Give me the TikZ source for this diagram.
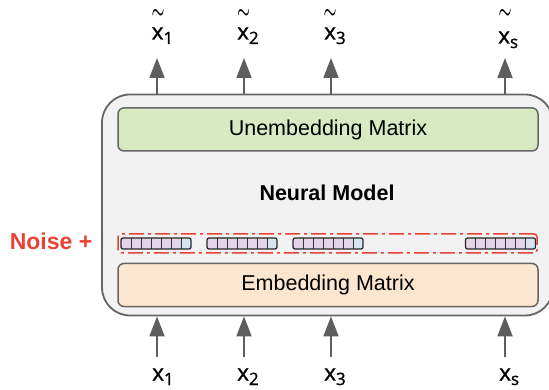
\documentclass[tikz,border=0pt]{standalone}
\usepackage{fontspec}
\setmainfont{Liberation Sans}
\newfontfamily\labfont[FakeBold=1.2]{Open Sans}
\usetikzlibrary{arrows.meta}
\definecolor{outerfill}{HTML}{F2F2F2}
\definecolor{bordergray}{HTML}{666666}
\definecolor{arrgray}{HTML}{5E5E5E}
\definecolor{greenfill}{HTML}{D9EAC3}
\definecolor{orangefill}{HTML}{FCE6CF}
\definecolor{noisered}{HTML}{E94235}
\definecolor{cellp}{HTML}{E1D5E7}
\definecolor{cellb}{HTML}{D6E4EE}
\tikzset{
  outerbox/.style={draw=bordergray, line width=1.8pt, fill=outerfill, rounded corners=28pt,
    minimum width=451pt, minimum height=221pt, inner sep=0},
  matbox/.style={draw=bordergray, line width=1.5pt, rounded corners=6pt,
    minimum width=420pt, minimum height=43pt, inner sep=0, font=\fontsize{21.5}{24}\selectfont},
  noisebox/.style={draw=noisered, line width=1.5pt, rounded corners=3pt,
    dash pattern=on 15pt off 4pt on 3pt off 4pt, minimum width=419pt, minimum height=19pt, inner sep=0},
  tokbox/.style={draw=black!85, line width=1.2pt, rounded corners=2pt, minimum width=70pt,
    minimum height=11pt, inner sep=0, fill=cellp,
    path picture={
      \fill[cellb] ([xshift=-10pt]path picture bounding box.north east) rectangle (path picture bounding box.south east);
      \foreach \i in {1,...,6}
        \draw[line width=0.7pt, black!80] ([xshift=\i*10pt]path picture bounding box.north west) -- ([xshift=\i*10pt]path picture bounding box.south west);
    }},
  arr/.style={draw=arrgray, line width=1.8pt, -{Triangle[length=20pt,width=15pt]}},
  xlab/.style={anchor=base west, inner sep=0},
  tlab/.style={inner sep=0, font=\fontsize{10}{10}\selectfont},
}
\newcommand{\xl}[1]{{\labfont\fontsize{22.5}{24}\selectfont x\raisebox{-4.5pt}{\fontsize{17}{17}\selectfont #1}}}
\newcommand{\tl}{\scalebox{1.45}[2.3]{$\boldsymbol{\sim}$}}
\usepackage{amsmath}
\begin{document}
\begin{tikzpicture}[x={(1pt,0)}, y={(0,-1pt)}]
\useasboundingbox (0,0) rectangle (549,390);
\clip (0,0) rectangle (549,390);
% outer model box
\node[outerbox] (model) at (327.5,205) {};
% matrices
\node[matbox, fill=greenfill] (unemb) at (328,129.5) {Unembedding Matrix};
\node[matbox, fill=orangefill] (emb) at (328,285) {Embedding Matrix};
\node[font=\bfseries\fontsize{21.5}{24}\selectfont] (nm) at (327,193) {Neural Model};
% noise
\node[noisebox] (noise) at (327.5,243.5) {};
\node[text=noisered, font=\bfseries\fontsize{23}{26}\selectfont, inner sep=0] (nlab) at (51,241) {Noise +};
% tokens
\node[tokbox] (k1) at (156,243.5) {};
\node[tokbox] (k2) at (242,243.5) {};
\node[tokbox] (k3) at (328,243.5) {};
\node[tokbox] (ks) at (500.5,243.5) {};
% top labels
\node[xlab] (t1) at (151.5,39.5) {\xl{1}};
\node[xlab] (t2) at (237,39.5) {\xl{2}};
\node[xlab] (t3) at (324,39.5) {\xl{3}};
\node[xlab] (ts) at (498,43.5) {\xl{s}};
\node[tlab] (w1) at (158,14) {\tl};
\node[tlab] (w2) at (243.5,14) {\tl};
\node[tlab] (w3) at (330,14) {\tl};
\node[tlab] (ws) at (505,14) {\tl};
% bottom labels
\node[xlab] (b1) at (152,380.5) {\xl{1}};
\node[xlab] (b2) at (237,380.5) {\xl{2}};
\node[xlab] (b3) at (324,380.5) {\xl{3}};
\node[xlab] (bs) at (499,380.5) {\xl{s}};
% arrow end coordinates
\coordinate (u1) at (157,58);
\coordinate (u2) at (244,58);
\coordinate (u3) at (331,58);
\coordinate (us) at (505,58);
\coordinate (d1) at (157,357);
\coordinate (d2) at (244,357);
\coordinate (d3) at (331,357);
\coordinate (ds) at (505,357);
% arrows
\foreach \c in {1,2,3,s}{
  \draw[arr] (u\c |- model.north) -- (u\c);
  \draw[arr] (d\c) -- (d\c |- model.south);
}
\end{tikzpicture}
\end{document}
